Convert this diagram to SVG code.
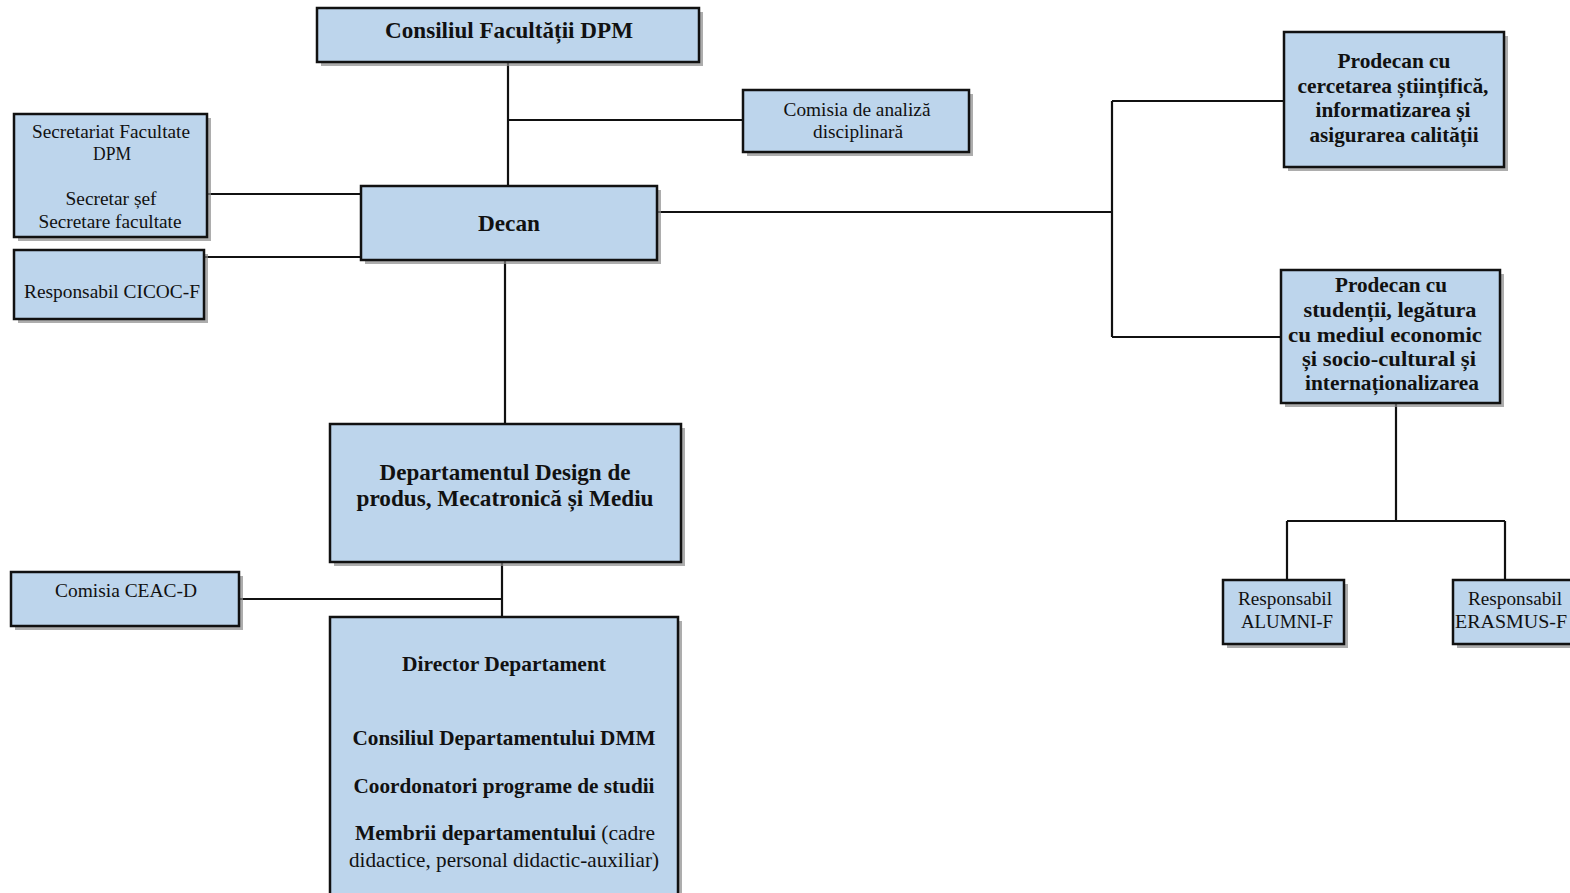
<svg xmlns="http://www.w3.org/2000/svg" width="1570" height="893" viewBox="0 0 1570 893">
<style>
.box{fill:#bdd5ec;stroke:#111;stroke-width:2.5}
.sh{fill:#8a8a8a;opacity:0.7}
.ln{stroke:#111;stroke-width:2.2;fill:none}
text{font-family:"Liberation Serif","Times New Roman",serif;fill:#111;text-anchor:middle}
.b{font-weight:bold}
.t23{font-size:23px}
.t21{font-size:21px}
.t19{font-size:18px}
</style>
<rect width="1570" height="893" fill="#fff"/>
<g id="connectors">
<path class="ln" d="M508 62V186"/>
<path class="ln" d="M508 120H743"/>
<path class="ln" d="M207 194H361"/>
<path class="ln" d="M204 257H361"/>
<path class="ln" d="M657 212H1112"/>
<path class="ln" d="M1112 101V337"/>
<path class="ln" d="M1112 101H1284"/>
<path class="ln" d="M1112 337H1281"/>
<path class="ln" d="M505 260V424"/>
<path class="ln" d="M502 562V617"/>
<path class="ln" d="M239 599H502"/>
<path class="ln" d="M1396 403V521"/>
<path class="ln" d="M1287 521H1505"/>
<path class="ln" d="M1287 521V580"/>
<path class="ln" d="M1505 521V580"/>
</g>
<g id="consiliul">
<rect class="sh" x="321" y="12" width="382" height="54"/>
<rect class="box" x="317" y="8" width="382" height="54"/>
<text class="b t23" x="509" y="38" textLength="248" lengthAdjust="spacingAndGlyphs">Consiliul Facultății DPM</text>
</g>
<g id="comisia-analiza">
<rect class="sh" x="747" y="94" width="226" height="62"/>
<rect class="box" x="743" y="90" width="226" height="62"/>
<text class="t19" x="857" y="116" textLength="147" lengthAdjust="spacingAndGlyphs">Comisia de analiză</text>
<text class="t19" x="858" y="138" textLength="90" lengthAdjust="spacingAndGlyphs">disciplinară</text>
</g>
<g id="secretariat">
<rect class="sh" x="18" y="118" width="193" height="123"/>
<rect class="box" x="14" y="114" width="193" height="123"/>
<text class="t19" x="111" y="138" textLength="158" lengthAdjust="spacingAndGlyphs">Secretariat Facultate</text>
<text class="t19" x="112" y="160" textLength="38" lengthAdjust="spacingAndGlyphs">DPM</text>
<text class="t19" x="111" y="205" textLength="91" lengthAdjust="spacingAndGlyphs">Secretar șef</text>
<text class="t19" x="110" y="228" textLength="143" lengthAdjust="spacingAndGlyphs">Secretare facultate</text>
</g>
<g id="cicoc">
<rect class="sh" x="18" y="254" width="190" height="69"/>
<rect class="box" x="14" y="250" width="190" height="69"/>
<text class="t19" x="112" y="298" textLength="176" lengthAdjust="spacingAndGlyphs">Responsabil CICOC-F</text>
</g>
<g id="decan">
<rect class="sh" x="365" y="190" width="296" height="74"/>
<rect class="box" x="361" y="186" width="296" height="74"/>
<text class="b t23" x="509" y="231" textLength="62" lengthAdjust="spacingAndGlyphs">Decan</text>
</g>
<g id="prodecan-cercetare">
<rect class="sh" x="1288" y="36" width="220" height="135"/>
<rect class="box" x="1284" y="32" width="220" height="135"/>
<text class="b t21" x="1394" y="68" textLength="113" lengthAdjust="spacingAndGlyphs">Prodecan cu</text>
<text class="b t21" x="1393" y="93" textLength="191" lengthAdjust="spacingAndGlyphs">cercetarea științifică,</text>
<text class="b t21" x="1393" y="117" textLength="155" lengthAdjust="spacingAndGlyphs">informatizarea și</text>
<text class="b t21" x="1394" y="142" textLength="169" lengthAdjust="spacingAndGlyphs">asigurarea calității</text>
</g>
<g id="prodecan-studenti">
<rect class="sh" x="1285" y="274" width="219" height="133"/>
<rect class="box" x="1281" y="270" width="219" height="133"/>
<text class="b t21" x="1391" y="292" textLength="112" lengthAdjust="spacingAndGlyphs">Prodecan cu</text>
<text class="b t21" x="1390" y="317" textLength="173" lengthAdjust="spacingAndGlyphs">studenții, legătura</text>
<text class="b t21" x="1385" y="342" textLength="194" lengthAdjust="spacingAndGlyphs">cu mediul economic</text>
<text class="b t21" x="1389" y="366" textLength="174" lengthAdjust="spacingAndGlyphs">și socio-cultural și</text>
<text class="b t21" x="1392" y="390" textLength="174" lengthAdjust="spacingAndGlyphs">internaționalizarea</text>
</g>
<g id="departament">
<rect class="sh" x="334" y="428" width="351" height="138"/>
<rect class="box" x="330" y="424" width="351" height="138"/>
<text class="b t23" x="505" y="480" textLength="251" lengthAdjust="spacingAndGlyphs">Departamentul Design de</text>
<text class="b t23" x="505" y="506" textLength="297" lengthAdjust="spacingAndGlyphs">produs, Mecatronică și Mediu</text>
</g>
<g id="ceac">
<rect class="sh" x="15" y="576" width="228" height="54"/>
<rect class="box" x="11" y="572" width="228" height="54"/>
<text class="t19" x="126" y="597" textLength="142" lengthAdjust="spacingAndGlyphs">Comisia CEAC-D</text>
</g>
<g id="director">
<rect class="sh" x="334" y="621" width="348" height="280"/>
<rect class="box" x="330" y="617" width="348" height="280"/>
<text class="b t21" x="504" y="671" textLength="204" lengthAdjust="spacingAndGlyphs">Director Departament</text>
<text class="b t21" x="504" y="745" textLength="303" lengthAdjust="spacingAndGlyphs">Consiliul Departamentului DMM</text>
<text class="b t21" x="504" y="793" textLength="301" lengthAdjust="spacingAndGlyphs">Coordonatori programe de studii</text>
<text class="t21" x="505" y="840" textLength="300" lengthAdjust="spacingAndGlyphs"><tspan class="b">Membrii departamentului</tspan> (cadre</text>
<text class="t21" x="504" y="867" textLength="310" lengthAdjust="spacingAndGlyphs">didactice, personal didactic-auxiliar)</text>
</g>
<g id="alumni">
<rect class="sh" x="1227" y="584" width="121" height="64"/>
<rect class="box" x="1223" y="580" width="121" height="64"/>
<text class="t19" x="1285" y="605" textLength="94" lengthAdjust="spacingAndGlyphs">Responsabil</text>
<text class="t19" x="1287" y="628" textLength="92" lengthAdjust="spacingAndGlyphs">ALUMNI-F</text>
</g>
<g id="erasmus">
<rect class="sh" x="1457" y="584" width="121" height="64"/>
<rect class="box" x="1453" y="580" width="121" height="64"/>
<text class="t19" x="1515" y="605" textLength="94" lengthAdjust="spacingAndGlyphs">Responsabil</text>
<text class="t19" x="1511" y="628" textLength="112" lengthAdjust="spacingAndGlyphs">ERASMUS-F</text>
</g>
</svg>
